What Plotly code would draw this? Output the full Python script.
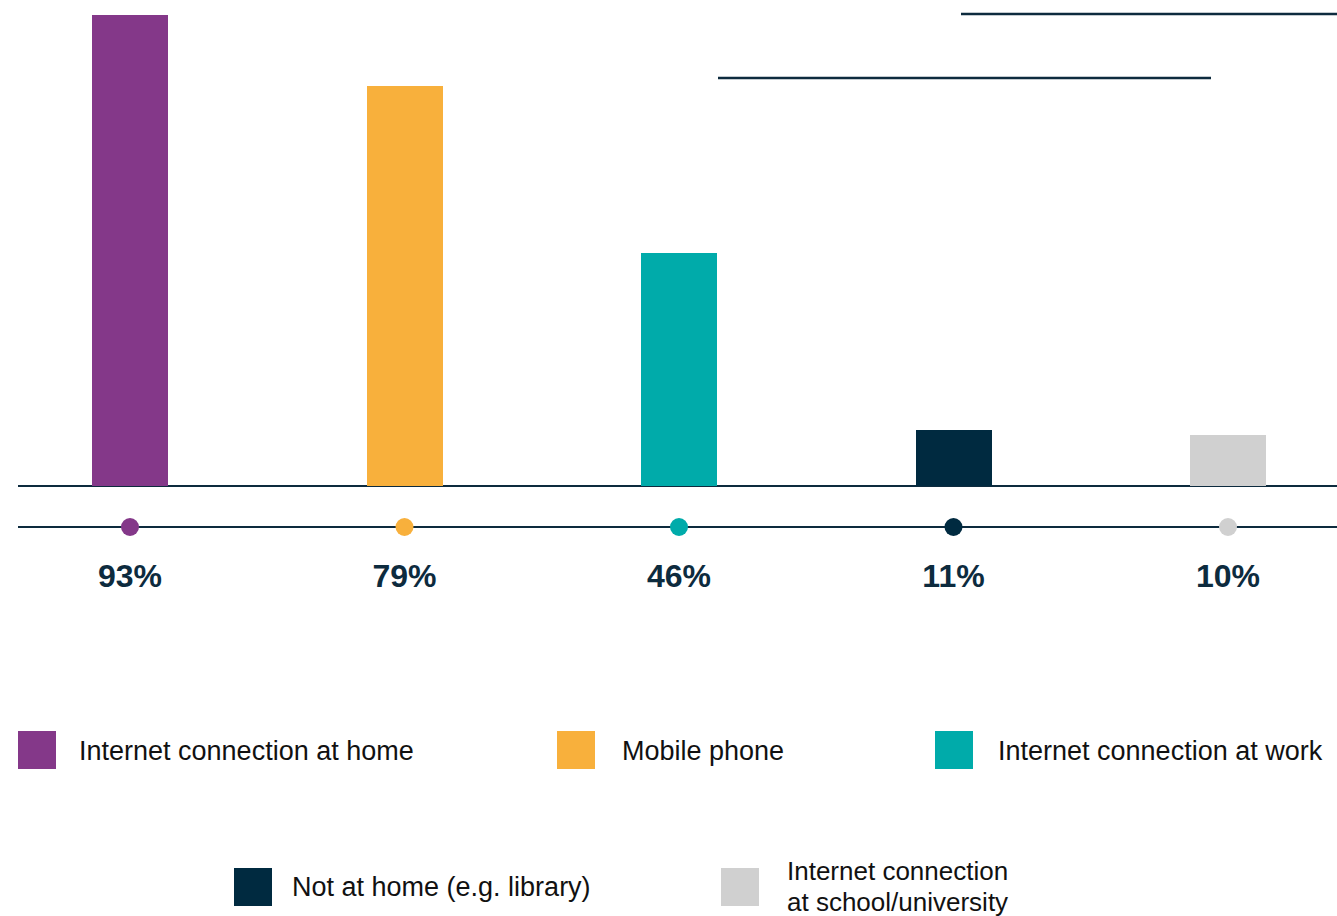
import plotly.graph_objects as go

# Data
categories = [
    "Internet connection at home",
    "Mobile phone",
    "Internet connection at work",
    "Not at home (e.g. library)",
    "Internet connection<br>at school/university",
]
values = [93, 79, 46, 11, 10]
colors = ["#843889", "#f8b03c", "#00abaa", "#002a40", "#d0d0d0"]

W, H = 1337, 916
NAVY = "#0d2b3e"
FONT = "Liberation Sans, Arial, Helvetica, sans-serif"

# Pixel geometry of the layout
BASE_PX = 486          # baseline of the bars (from top)
PX_PER_UNIT = 5.065    # vertical pixels per percentage point
FIRST_CX = 130         # centre of first bar
STEP = 274.5           # spacing between bars
LEGEND_LINE = 31       # line spacing for wrapped legend labels

y_top = BASE_PX / PX_PER_UNIT
y_bot = -(H - BASE_PX) / PX_PER_UNIT


def y_at(px):
    """Data y for a vertical pixel position measured from the top."""
    return (BASE_PX - px) / PX_PER_UNIT


def px(x):
    return x / W


def py(y):
    return 1 - y / H


xs = list(range(len(values)))

fig = go.Figure()

fig.add_trace(go.Bar(
    x=xs, y=values, marker=dict(color=colors, line=dict(width=0)),
    width=76 / STEP, showlegend=False, hoverinfo="skip",
))

# dots on the lower guide line
fig.add_trace(go.Scatter(
    x=xs, y=[y_at(527)] * len(xs), mode="markers",
    marker=dict(size=18, color=colors, line=dict(width=0)),
    showlegend=False, hoverinfo="skip",
))

# percentage labels
fig.add_trace(go.Scatter(
    x=xs, y=[y_at(579)] * len(xs), mode="text",
    text=[f"<b>{v}%</b>" for v in values],
    textfont=dict(family=FONT, size=32, color=NAVY),
    textposition="middle center",
    showlegend=False, hoverinfo="skip",
))

shapes = []
# baseline and guide line
for yline in (BASE_PX, 527):
    shapes.append(dict(type="line", xref="paper", yref="paper",
                       x0=px(18), x1=1, y0=py(yline), y1=py(yline),
                       line=dict(color=NAVY, width=2), layer="below"))
# decorative lines at top right
shapes.append(dict(type="line", xref="paper", yref="paper",
                   x0=px(961), x1=1, y0=py(14), y1=py(14),
                   line=dict(color=NAVY, width=2.5)))
shapes.append(dict(type="line", xref="paper", yref="paper",
                   x0=px(718), x1=px(1211), y0=py(78), y1=py(78),
                   line=dict(color=NAVY, width=2.5)))

# custom legend: (square left x, square top y, text x, text centre y)
legend_pos = [
    (18, 731, 77, 751),
    (557, 731, 620, 751),
    (935, 731, 996, 751),
    (234, 868, 290, 887),
    (721, 868, 785, 886),
]
annotations = []
for (sx, sy, tx, ty), lab, col in zip(legend_pos, categories, colors):
    shapes.append(dict(type="rect", xref="paper", yref="paper",
                       x0=px(sx), x1=px(sx + 38), y0=py(sy), y1=py(sy + 38),
                       fillcolor=col, line=dict(width=0)))
    lines = lab.split("<br>")
    first = ty - LEGEND_LINE * (len(lines) - 1) / 2
    size = 27 if len(lines) == 1 else 26
    for k, line in enumerate(lines):
        annotations.append(dict(xref="paper", yref="paper", x=px(tx),
                                y=py(first + k * LEGEND_LINE),
                                text=line, showarrow=False, xanchor="left",
                                yanchor="middle", align="left",
                                font=dict(family=FONT, size=size,
                                          color="#111111")))

fig.update_layout(
    width=W, height=H,
    margin=dict(l=0, r=0, t=0, b=0),
    paper_bgcolor="white", plot_bgcolor="white",
    xaxis=dict(range=[-FIRST_CX / STEP, (W - FIRST_CX) / STEP],
               visible=False, fixedrange=True),
    yaxis=dict(range=[y_bot, y_top], visible=False, fixedrange=True),
    shapes=shapes, annotations=annotations,
    bargap=0,
)

fig.write_html("out.html")
